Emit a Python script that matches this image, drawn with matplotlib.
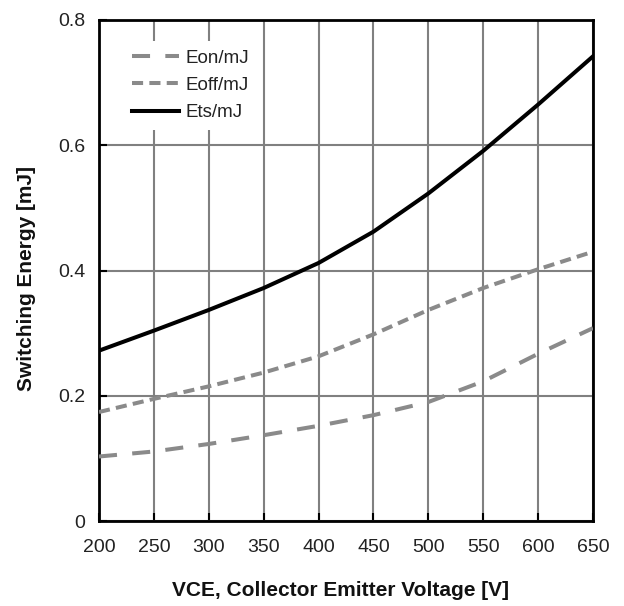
import matplotlib
matplotlib.use("Agg")
import matplotlib.pyplot as plt

plt.rcParams['font.family'] = ['Liberation Sans', 'DejaVu Sans']
plt.rcParams['lines.scale_dashes'] = False

vce = [200, 250, 300, 350, 400, 450, 500, 550, 600, 650]
eon = [0.103, 0.111, 0.123, 0.137, 0.152, 0.169, 0.190, 0.223, 0.267, 0.308]
eoff = [0.174, 0.195, 0.215, 0.237, 0.263, 0.298, 0.337, 0.372, 0.402, 0.430]
ets = [0.272, 0.304, 0.337, 0.372, 0.412, 0.462, 0.523, 0.591, 0.665, 0.742]

xticks = [200, 250, 300, 350, 400, 450, 500, 550, 600, 650]
yticks = [0, 0.2, 0.4, 0.6, 0.8]
ytick_labels = ["0", "0.2", "0.4", "0.6", "0.8"]

fig = plt.figure(figsize=(6.24, 6.06), dpi=100)
ax = fig.add_axes([99/624, 1 - 521/606, (593-99)/624, (521-20)/606])

gray = '#8a8a8a'
ax.plot(vce, eon, color=gray, lw=2.9, dashes=(13, 11), label='Eon/mJ', zorder=3)
ax.plot(vce, eoff, color=gray, lw=2.9, dashes=(8, 4.5), label='Eoff/mJ', zorder=3)
ax.plot(vce, ets, color='black', lw=2.9, label='Ets/mJ', zorder=4)

ax.set_xlim(200, 650)
ax.set_ylim(0, 0.8)
ax.set_xticks(xticks)
ax.set_yticks(yticks)
ax.set_yticklabels(ytick_labels)
ax.grid(True, color='#808080', lw=1.5, zorder=1)
ax.set_axisbelow(True)
for s in ax.spines.values():
    s.set_linewidth(2)
    s.set_color('black')
ax.tick_params(axis='both', direction='in', length=6, width=1.5, labelsize=14,
               colors='black', labelcolor='#222222')
ax.tick_params(axis='y', pad=10)
ax.tick_params(axis='x', pad=13)

ax.set_xlabel('VCE, Collector Emitter Voltage [V]', fontsize=15, fontweight='bold', color='#111111')
ax.xaxis.set_label_coords(0.488, -0.12)
ax.set_ylabel('Switching Energy [mJ]', fontsize=15, fontweight='bold', color='#111111')
ax.yaxis.set_label_coords(-0.128, 0.484)

leg = ax.legend(loc='upper left', bbox_to_anchor=(0.049, 0.958), fontsize=13.5,
                frameon=True, fancybox=False, edgecolor='none', facecolor='white',
                framealpha=1, handlelength=2.5, handletextpad=0.35,
                labelspacing=0.55, borderpad=0.45, borderaxespad=0.0)
leg.set_zorder(5)
for t in leg.get_texts():
    t.set_color('#222222')

fig.savefig('out.png', dpi=100, facecolor='white')
